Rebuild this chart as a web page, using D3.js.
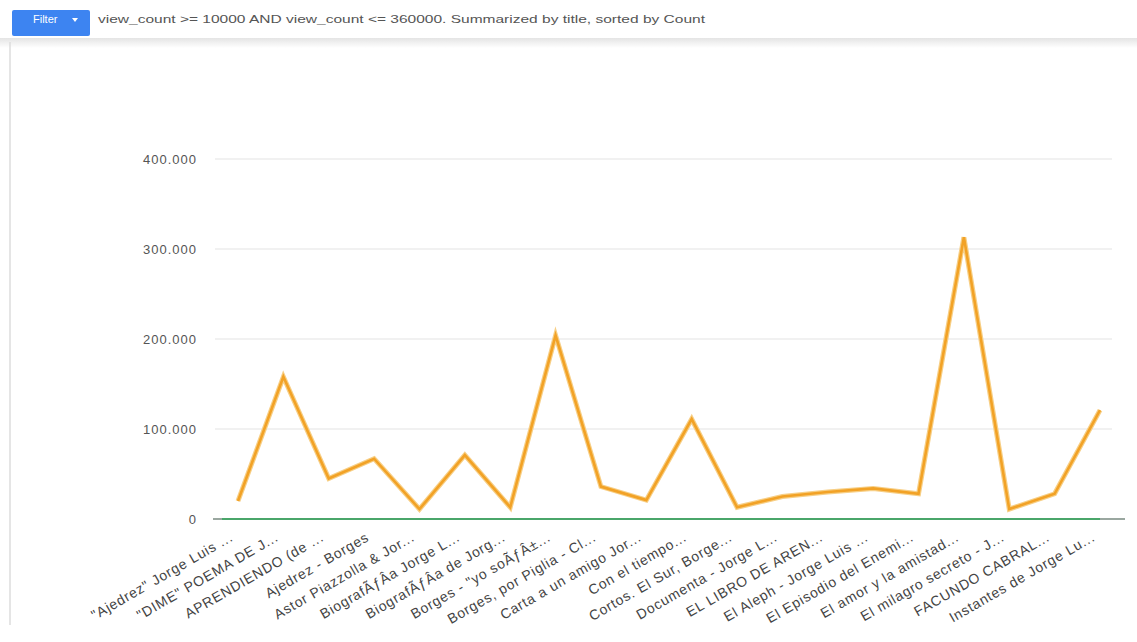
<!DOCTYPE html>
<html>
<head>
<meta charset="utf-8">
<script src="https://cdn.jsdelivr.net/npm/d3@7"></script>
<style>
  body { margin: 0; background: #fff; font-family: "Liberation Sans", Arial, sans-serif; }
  svg { display: block; }
</style>
</head>
<body>
<svg id="viz" width="1137" height="642"></svg>
<script>
'use strict'

// titles (truncated as in the original)
const titles = [
  '"Ajedrez" Jorge Luis ...',
  '"DIME" POEMA DE J...',
  'APRENDIENDO (de ...',
  'Ajedrez - Borges',
  'Astor Piazzolla & Jor...',
  'BiografÃƒÂ­a Jorge L...',
  'BiografÃƒÂ­a de Jorg...',
  'Borges - "yo soÃƒÂ±...',
  'Borges, por Piglia - Cl...',
  'Carta a un amigo Jor...',
  'Con el tiempo...',
  'Cortos. El Sur, Borge...',
  'Documenta - Jorge L...',
  'EL LIBRO DE AREN...',
  'El Aleph - Jorge Luis ...',
  'El Episodio del Enemi...',
  'El amor y la amistad...',
  'El milagro secreto - J...',
  'FACUNDO CABRAL...',
  'Instantes de Jorge Lu...'
]

const counts = [20000, 158000, 45000, 67000, 11000, 71000, 13000, 204000, 36000, 21000,
  111000, 13000, 25000, 30000, 34000, 28000, 313000, 11000, 28000, 121000]

const yTicks = [0, 100000, 200000, 300000, 400000]

const filterText = 'view_count >= 10000 AND view_count <= 360000. Summarized by title, sorted by Count'

let svg = d3.select('#viz')

let locale = d3.formatLocale({ decimal: ',', thousands: '.', grouping: [3], currency: ['', ''] })
let fmt = locale.format(',d')

let xScale = d3.scalePoint().domain(d3.range(titles.length)).range([238, 1100])
let yScale = d3.scaleLinear().domain([0, 400000]).range([519, 159])

drawFrame()
drawGrid()
drawLine()
drawLabels()

function drawFrame () {
  let defs = svg.append('defs')
  let grad = defs.append('linearGradient')
    .attr('id', 'shadow').attr('x1', 0).attr('x2', 0).attr('y1', 0).attr('y2', 1)
  grad.append('stop').attr('offset', '0%').attr('stop-color', '#e4e4e4')
  grad.append('stop').attr('offset', '100%').attr('stop-color', '#ffffff')

  svg.append('rect')
    .attr('x', 0).attr('y', 38).attr('width', 1137).attr('height', 10)
    .attr('fill', 'url(#shadow)')

  svg.append('line')
    .attr('x1', 10).attr('x2', 10).attr('y1', 42).attr('y2', 625)
    .attr('stroke', '#dcdcdc').attr('stroke-width', 1.5)

  // filter button
  svg.append('rect')
    .attr('x', 12).attr('y', 10).attr('width', 78).attr('height', 26)
    .attr('rx', 2).attr('fill', '#3d84f1')
  svg.append('text')
    .attr('x', 33).attr('y', 23)
    .attr('fill', '#fff').attr('font-size', 11)
    .text('Filter')
  svg.append('path')
    .attr('d', 'M72,18 l6,0 l-3,4 z')
    .attr('fill', '#fff')

  svg.append('text')
    .attr('x', 98).attr('y', 23)
    .attr('fill', '#555').attr('font-size', 11)
    .attr('textLength', 607)
    .attr('lengthAdjust', 'spacingAndGlyphs')
    .text(filterText)
}

function drawGrid () {
  let g = svg.append('g').attr('class', 'y axis')
  g.selectAll('line.grid')
    .data(yTicks.filter(d => d > 0))
    .enter()
    .append('line')
    .attr('class', 'grid')
    .attr('x1', 215).attr('x2', 1112)
    .attr('y1', d => yScale(d)).attr('y2', d => yScale(d))
    .attr('stroke', '#e3e3e3').attr('stroke-width', 1.2)

  g.selectAll('text')
    .data(yTicks)
    .enter()
    .append('text')
    .attr('x', 197)
    .attr('y', d => yScale(d) + 5)
    .attr('text-anchor', 'end')
    .attr('font-size', 13)
    .attr('letter-spacing', 1)
    .attr('fill', '#555')
    .text(d => fmt(d))

  // baseline
  g.append('line')
    .attr('x1', 213).attr('x2', 1125)
    .attr('y1', yScale(0)).attr('y2', yScale(0))
    .attr('stroke', '#9aa7a0').attr('stroke-width', 2)
  g.append('line')
    .attr('x1', 222).attr('x2', 1100)
    .attr('y1', yScale(0)).attr('y2', yScale(0))
    .attr('stroke', '#4aa66a').attr('stroke-width', 2)
}

function drawLine () {
  let line = d3.line()
    .x((d, i) => xScale(i))
    .y(d => yScale(d))

  svg.append('path')
    .datum(counts)
    .attr('d', line)
    .attr('fill', 'none')
    .attr('stroke', '#f7cf86')
    .attr('stroke-width', 5)

  svg.append('path')
    .datum(counts)
    .attr('d', line)
    .attr('fill', 'none')
    .attr('stroke', '#f2a226')
    .attr('stroke-width', 2.6)
}

function drawLabels () {
  svg.append('g')
    .attr('class', 'x axis')
    .selectAll('text')
    .data(titles)
    .enter()
    .append('text')
    .attr('transform', (d, i) => 'translate(' + (xScale(i) - 4) + ',540) rotate(-30)')
    .attr('text-anchor', 'end')
    .attr('font-size', 14)
    .attr('letter-spacing', 0.8)
    .attr('fill', '#444')
    .text(d => d)
}
</script>
</body>
</html>
